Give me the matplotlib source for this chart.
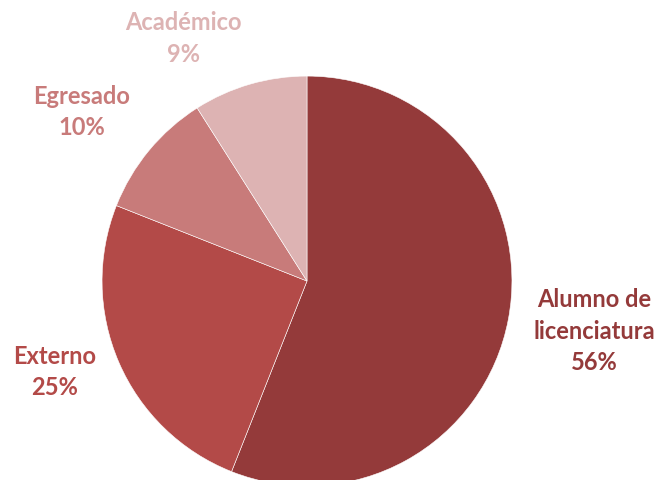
import matplotlib.pyplot as plt

# Datos
categorias = ['Alumno de\nlicenciatura', 'Externo', 'Egresado', 'Académico']
porcentajes = [56, 25, 10, 9]
colores = ['#943A3A', '#B34A48', '#C87B7A', '#DDB3B3']

# posiciones de las etiquetas (fracción de la figura)
pos_etiquetas = [(0.899, 0.31), (0.083, 0.225), (0.124, 0.767), (0.277, 0.92)]

fig = plt.figure(figsize=(6.61, 4.8), dpi=100)
ax = fig.add_axes([0.1543, -0.0125, 0.6203, 0.854])

ax.pie(porcentajes, colors=colores, startangle=90, counterclock=False,
       wedgeprops={'edgecolor': 'white', 'linewidth': 0.4})
ax.set_xlim(-1, 1)
ax.set_ylim(-1, 1)
ax.set_aspect('equal')
ax.axis('off')

for cat, pct, col, (x, y) in zip(categorias, porcentajes, colores, pos_etiquetas):
    fig.text(x, y, f'{cat}\n{pct}%', color=col, ha='center', va='center',
             fontsize=17, fontweight='bold', family='Lato', linespacing=1.45)

plt.savefig('out.png', dpi=100)
